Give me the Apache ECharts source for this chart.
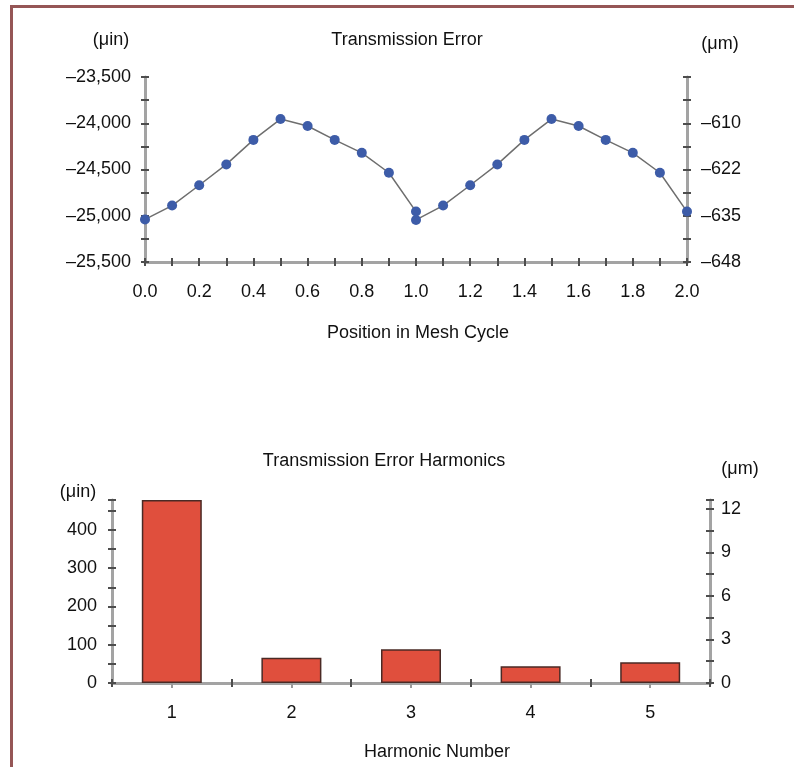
<!DOCTYPE html>
<html>
<head>
<meta charset="utf-8">
<script src="https://cdn.jsdelivr.net/npm/echarts@6/dist/echarts.min.js"></script>
<style>
  html, body { margin: 0; padding: 0; background: #fff; }
  #chart { width: 794px; height: 767px; }
</style>
</head>
<body>
<div id="chart"></div>
<script>
// Transmission error over two mesh cycles (micro-inches)
const meshPosition = [0.0, 0.1, 0.2, 0.3, 0.4, 0.5, 0.6, 0.7, 0.8, 0.9, 1.0,
                      1.0, 1.1, 1.2, 1.3, 1.4, 1.5, 1.6, 1.7, 1.8, 1.9, 2.0];
const errorMicroInch = [-25040, -24890, -24670, -24445, -24180, -23955, -24030, -24180, -24320, -24535, -24955,
                        -25045, -24890, -24670, -24445, -24180, -23955, -24030, -24180, -24320, -24535, -24955];

// Harmonic amplitudes (micro-inches)
const harmonicNumber = ['1', '2', '3', '4', '5'];
const harmonicMicroInch = [478, 66, 88, 44, 54];

// Tick labels
const errorInchLabels = ['\u201325,500', '\u201325,000', '\u201324,500', '\u201324,000', '\u201323,500'];
const errorMetricLabels = ['\u2013648', '\u2013635', '\u2013622', '\u2013610'];
const harmonicMetricLabels = ['0', '3', '6', '9', '12'];

const FONT = '"Liberation Sans", Arial, sans-serif';
const TEXT = '#111';
const AXIS_LINE = { show: true, lineStyle: { color: '#a3a3a3', width: 3 } };
const TICK = { color: '#4d4d4d', width: 2 };
const labelStyle = { color: TEXT, fontSize: 18, fontFamily: FONT };

// Each axis is paired with a label-less twin carrying inward ticks,
// so tick marks cross the axis line.
function valueAxis(base) {
  const main = Object.assign({
    type: 'value',
    axisLine: AXIS_LINE,
    axisTick: { show: true, length: 4, lineStyle: TICK },
    splitLine: { show: false }
  }, base);
  const twin = Object.assign({}, base, {
    type: 'value',
    axisLine: { show: false },
    axisLabel: { show: false },
    axisTick: { show: true, inside: true, length: 4, lineStyle: TICK },
    splitLine: { show: false }
  });
  return [main, twin];
}

const chart = echarts.init(document.getElementById('chart'), null, { renderer: 'canvas' });

const topX = valueAxis({
  gridIndex: 0, position: 'bottom', min: 0, max: 2, interval: 0.1,
  axisLabel: Object.assign({}, labelStyle, {
    margin: 21,
    formatter: v => (Math.round(v * 10) % 2 === 0 ? v.toFixed(1) : '')
  })
});
const topYLeft = valueAxis({
  gridIndex: 0, position: 'left', min: -25500, max: -23500, interval: 250,
  axisLabel: Object.assign({}, labelStyle, {
    margin: 14,
    formatter: v => ((v + 25500) % 500 === 0 ? errorInchLabels[(v + 25500) / 500] : '')
  })
});
const topYRight = valueAxis({
  gridIndex: 0, position: 'right', min: -25500, max: -23500, interval: 250,
  axisLabel: Object.assign({}, labelStyle, {
    margin: 14,
    formatter: v => {
      const k = (v + 25500) / 500;
      return Number.isInteger(k) && k < errorMetricLabels.length ? errorMetricLabels[k] : '';
    }
  })
});

const botYLeft = valueAxis({
  gridIndex: 1, position: 'left', min: 0, max: 478, interval: 50,
  axisLabel: Object.assign({}, labelStyle, {
    margin: 15,
    formatter: v => (v % 100 === 0 ? String(v) : '')
  })
});
const botYRight = valueAxis({
  gridIndex: 1, position: 'right', min: 0, max: 12.6, interval: 1.5,
  axisLabel: Object.assign({}, labelStyle, {
    margin: 11,
    formatter: v => {
      const k = v / 3;
      return Number.isInteger(k) && k < harmonicMetricLabels.length ? harmonicMetricLabels[k] : '';
    }
  })
});

const botXMain = {
  type: 'category', gridIndex: 1, position: 'bottom', data: harmonicNumber,
  axisLine: AXIS_LINE,
  axisTick: { show: true, length: 4, lineStyle: TICK },
  axisLabel: Object.assign({}, labelStyle, { margin: 21 })
};
const botXInside = {
  type: 'category', gridIndex: 1, position: 'bottom', data: harmonicNumber,
  axisLine: { show: false }, axisLabel: { show: false },
  axisTick: { show: true, inside: true, length: 4, lineStyle: TICK }
};
const botXCenter = {
  type: 'category', gridIndex: 1, position: 'bottom', data: harmonicNumber,
  axisLine: { show: false }, axisLabel: { show: false },
  axisTick: { show: true, alignWithLabel: true, length: 5, lineStyle: { color: '#9a9a9a', width: 2 } }
};

function text(x, y, str) {
  return {
    type: 'text', x: x, y: y, z: 10,
    style: { text: str, fill: TEXT, font: '18px ' + FONT, align: 'center', verticalAlign: 'middle' }
  };
}

chart.setOption({
  animation: false,
  backgroundColor: '#fff',
  grid: [
    { left: 145, top: 77, width: 542, height: 185 },
    { left: 112, top: 500, width: 598, height: 183 }
  ],
  xAxis: [topX[0], topX[1], botXMain, botXInside, botXCenter],
  yAxis: [topYLeft[0], topYLeft[1], topYRight[0], topYRight[1],
          botYLeft[0], botYLeft[1], botYRight[0], botYRight[1]],
  series: [
    {
      type: 'line',
      xAxisIndex: 0, yAxisIndex: 0,
      data: meshPosition.map((x, i) => [x, errorMicroInch[i]]),
      symbol: 'circle', symbolSize: 10,
      lineStyle: { color: '#6e6e6e', width: 1.5 },
      itemStyle: { color: '#3d5ca8' },
      z: 5
    },
    {
      type: 'bar',
      xAxisIndex: 2, yAxisIndex: 4,
      data: harmonicMicroInch,
      barWidth: 60,
      itemStyle: { color: '#e04f3d', borderColor: '#4a2a25', borderWidth: 1.5 }
    }
  ],
  graphic: [
    // frame edges
    { type: 'line', shape: { x1: 11.5, y1: 5, x2: 11.5, y2: 767 }, style: { stroke: '#955656', lineWidth: 3 } },
    { type: 'line', shape: { x1: 10, y1: 6.5, x2: 794, y2: 6.5 }, style: { stroke: '#955656', lineWidth: 3 } },
    text(111, 40, '(\u03bcin)'),
    text(407, 40, 'Transmission Error'),
    text(720, 44, '(\u03bcm)'),
    text(418, 333, 'Position in Mesh Cycle'),
    text(384, 461, 'Transmission Error Harmonics'),
    text(78, 492, '(\u03bcin)'),
    text(740, 469, '(\u03bcm)'),
    text(437, 752, 'Harmonic Number')
  ]
});
</script>
</body>
</html>
